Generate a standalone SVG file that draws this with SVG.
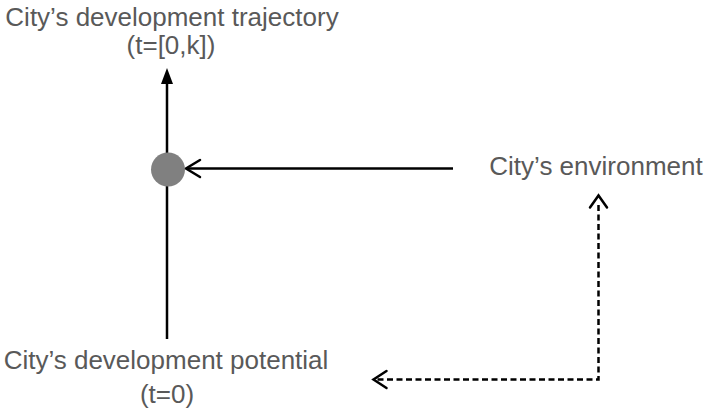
<svg xmlns="http://www.w3.org/2000/svg" width="706" height="414" viewBox="0 0 706 414">
  <style>
    .lbl { font-family: "Liberation Sans", Arial, sans-serif; font-size: 26px; fill: #595959; text-anchor: middle; }
    .ln { stroke: #000; stroke-width: 2.5; fill: none; }
    .dash { stroke-dasharray: 6 3.5; }
    .chev { stroke: #000; stroke-width: 2.5; fill: none; stroke-linecap: round; stroke-linejoin: miter; }
  </style>
  <rect width="706" height="414" fill="#fff"/>

  <g id="connectors">
    <!-- potential → trajectory axis -->
    <line class="ln" x1="167" y1="339" x2="167" y2="80"/>
    <polygon points="167,68 161,84 173,84" fill="#000"/>
    <!-- environment → city -->
    <line class="ln" x1="453" y1="168.5" x2="187" y2="168.5"/>
    <polyline class="chev" points="200,160 186,168.5 200,177"/>
    <!-- feedback loop (dashed) -->
    <polyline class="ln dash" points="598.5,205 598.5,379.5 375,379.5"/>
    <polyline class="chev" points="590,207.5 598.5,195.5 607,207.5"/>
    <polyline class="chev" points="386.5,371 373.5,379.5 386.5,388"/>
  </g>

  <g id="city">
    <circle cx="168" cy="169.5" r="17" fill="#808080"/>
  </g>

  <g id="trajectory">
    <text class="lbl" x="172" y="26">City’s development trajectory</text>
    <text class="lbl" x="171" y="54">(t=[0,k])</text>
  </g>

  <g id="environment">
    <text class="lbl" x="596" y="175">City’s environment</text>
  </g>

  <g id="potential">
    <text class="lbl" x="166" y="369">City’s development potential</text>
    <text class="lbl" x="167" y="403">(t=0)</text>
  </g>
</svg>
